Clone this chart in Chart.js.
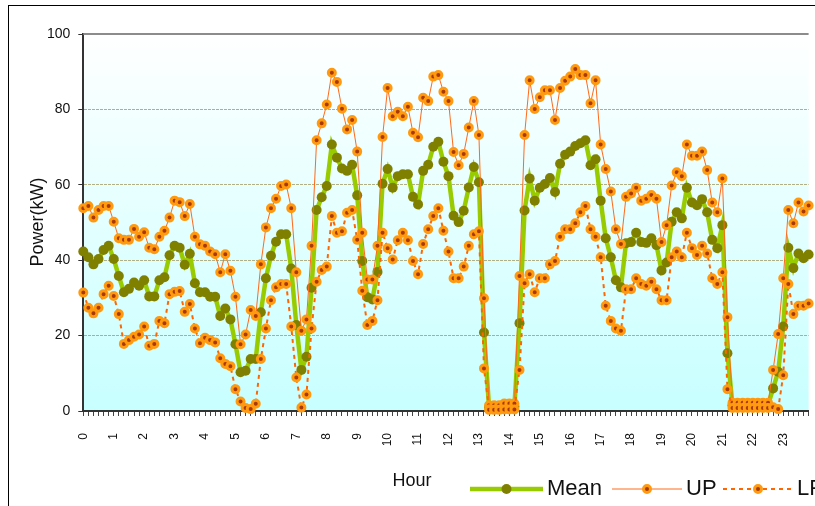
<!DOCTYPE html>
<html>
<head>
<meta charset="utf-8">
<title>Power by hour</title>
<script src="https://cdn.jsdelivr.net/npm/chart.js@4.4.0/dist/chart.umd.min.js"></script>
<style>
  html, body { margin: 0; padding: 0; background: #fff; overflow: hidden; }
  #wrap { position: relative; width: 815px; height: 506px; overflow: hidden; }
  #powerChart { position: absolute; left: 0; top: 0; }
</style>
</head>
<body>
<div id="wrap"><canvas id="powerChart" width="840" height="506" style="width:840px;height:506px"></canvas></div>
<script>
// =======================================================
// === DATA (10 min slots, 6 per hour) ===
// =======================================================
const hourLabels = ['0','1','2','3','4','5','6','7','8','9','10','11',
                    '12','13','14','15','16','17','18','19','20','21','22','23'];
const SLOTS_PER_HOUR = 6;

// Mean power (kW)
const meanKW = [
  42.3,40.8,38.9,40.3,42.7,43.8,40.3,35.8,31.5,32.4,
  34.1,33.2,34.7,30.4,30.4,34.7,35.5,41.3,43.8,43.3,
  38.8,41.7,33.9,31.5,31.5,30.3,30.3,25.2,27.2,24.3,
  17.7,10.3,10.7,13.8,13.8,26.2,35.2,41.2,44.9,46.9,
  46.9,37.8,22.8,10.9,14.4,32.7,53.3,56.7,59.7,70.7,
  67.2,64.3,63.7,65.3,57.2,39.8,30.2,29.6,36.9,60.3,
  64.2,59.2,62.3,62.8,62.8,56.8,54.8,63.7,65.3,70.1,
  71.4,66.1,62.3,51.8,50.1,53.1,59.3,64.7,60.7,20.8,
  1.0,1.0,1.0,1.2,1.2,1.2,23.3,53.2,61.7,55.8,
  59.2,60.2,61.8,58.1,65.6,68.0,68.8,70.3,71.0,71.8,
  65.2,66.8,55.8,45.8,40.8,34.7,32.8,44.5,44.8,47.3,
  44.8,44.6,45.8,44.0,37.3,39.4,50.2,52.7,51.1,59.2,
  55.3,54.6,56.2,52.7,45.4,43.2,49.3,15.3,1.5,1.5,
  1.5,1.5,1.5,1.5,1.5,1.5,6.0,10.4,22.4,43.3,
  37.9,41.8,40.5,41.5
];

// Upper bound (kW)
const upKW = [
  53.8,54.4,51.3,53.3,54.4,54.4,50.2,45.8,45.4,45.4,
  48.3,46.2,47.4,43.3,42.9,46.2,47.8,51.3,55.8,55.4,
  51.7,54.9,46.2,44.2,43.8,42.3,41.6,36.8,41.6,37.2,
  30.3,17.7,20.3,26.8,25.2,38.9,48.7,53.8,56.3,59.7,
  60.1,53.8,36.8,21.3,24.3,43.8,71.8,76.3,81.3,89.7,
  87.3,80.2,74.7,77.2,68.8,47.3,34.9,34.9,43.8,72.7,
  85.7,78.2,79.4,78.2,80.7,73.8,72.6,83.1,82.2,88.7,
  89.1,84.7,82.2,68.7,65.2,68.2,75.2,82.2,73.2,29.9,
  1.5,1.5,1.5,2.0,2.0,2.0,35.8,73.2,87.7,80.1,
  83.2,85.1,85.1,77.2,85.7,87.6,88.7,90.7,89.1,89.1,
  81.6,87.7,70.7,64.2,58.2,48.2,44.3,56.8,57.7,59.2,
  55.8,56.3,57.3,56.3,44.8,49.3,59.8,63.3,62.3,70.7,
  67.7,67.7,68.8,63.9,55.3,52.7,61.7,24.9,2.2,2.2,
  2.2,2.2,2.2,2.2,2.2,2.2,10.9,20.4,35.2,53.3,
  49.8,55.3,52.9,54.5
];

// Lower bound (kW)
const lpKW = [
  31.4,27.4,25.9,27.4,31.0,33.2,30.5,25.7,17.8,18.8,
  19.7,20.3,22.4,17.3,17.8,23.9,23.3,31.0,31.6,31.8,
  26.3,28.4,21.9,18.0,19.4,18.8,18.2,14.0,12.5,11.9,
  5.8,2.5,0.8,0.5,1.9,13.8,21.9,29.4,32.8,33.7,
  33.7,22.4,8.9,0.9,4.4,21.9,34.3,37.4,38.3,51.7,
  47.3,47.7,52.6,53.3,45.4,31.9,22.8,23.9,29.4,47.3,
  43.2,40.2,45.3,47.3,45.3,39.8,36.3,44.3,48.2,51.7,
  53.8,47.8,42.3,35.2,35.2,38.3,43.8,46.9,47.7,11.3,
  0.3,0.3,0.3,0.4,0.4,0.4,10.9,33.9,36.3,31.5,
  35.2,35.2,38.9,39.8,46.2,48.2,48.2,49.8,52.7,54.4,
  48.2,46.2,40.8,27.9,23.9,21.9,21.3,32.3,32.3,35.2,
  33.7,33.2,34.3,32.3,29.4,29.4,40.8,42.3,40.8,47.3,
  43.2,41.4,43.8,41.8,35.2,33.7,36.8,5.8,0.8,0.8,
  0.8,0.8,0.8,0.8,0.8,0.8,1.0,0.5,9.5,33.7,
  25.7,27.9,27.9,28.5
];

// categories: one per 10 minutes
const timeSlots = [];
hourLabels.forEach(h => {
  for (let m = 0; m < 60; m += 10) timeSlots.push(h + ':' + String(m).padStart(2, '0'));
});

const FONT = '"Liberation Sans", Arial, sans-serif';

// =======================================================
// === PLUGINS: backdrop, frame, titles, legend ===
// =======================================================
const chartBackdrop = {
  id: 'chartBackdrop',
  beforeDraw(chart) {
    const { ctx, chartArea: a } = chart;
    const g = ctx.createLinearGradient(0, a.top, 0, a.bottom);
    g.addColorStop(0, '#ffffff');
    g.addColorStop(1, '#c8ffff');
    ctx.save();
    ctx.fillStyle = g;
    ctx.fillRect(a.left, a.top, a.right - a.left, a.bottom - a.top);
    // outer chart border (only top/left are inside the window)
    ctx.strokeStyle = '#000';
    ctx.lineWidth = 1;
    ctx.strokeRect(8.5, 5.5, chart.width, chart.height);
    ctx.restore();
  },
  beforeDatasetsDraw(chart) {
    const { ctx, chartArea: a } = chart;
    ctx.save();
    ctx.strokeStyle = '#8c8c8c';
    ctx.lineWidth = 2;
    ctx.beginPath();
    ctx.moveTo(a.left, a.top);
    ctx.lineTo(a.right, a.top);
    ctx.stroke();
    ctx.restore();
  }
};

const titlesAndLegend = {
  id: 'titlesAndLegend',
  afterDraw(chart, args, opts) {
    const ctx = chart.ctx;
    ctx.save();
    ctx.fillStyle = '#111';
    ctx.textBaseline = 'middle';
    ctx.textAlign = 'center';

    // axis titles
    ctx.font = '18px ' + FONT;
    ctx.fillText('Hour', opts.xTitle.x, opts.xTitle.y);
    ctx.save();
    ctx.translate(opts.yTitle.x, opts.yTitle.y);
    ctx.rotate(-Math.PI / 2);
    ctx.fillText('Power(kW)', 0, 0);
    ctx.restore();

    // legend: line sample + marker + label
    ctx.font = '22px ' + FONT;
    ctx.textAlign = 'left';
    chart.data.datasets.forEach((ds, i) => {
      const item = opts.items[i];
      const y = opts.y;
      ctx.save();
      ctx.strokeStyle = ds.borderColor;
      ctx.lineWidth = ds.borderWidth;
      ctx.setLineDash(ds.borderDash || []);
      ctx.beginPath();
      ctx.moveTo(item.x, y);
      ctx.lineTo(item.x + item.w, y);
      ctx.stroke();
      ctx.setLineDash([]);
      ctx.beginPath();
      ctx.arc(item.x + item.w / 2, y, ds.pointRadius, 0, Math.PI * 2);
      ctx.fillStyle = ds.pointBackgroundColor;
      ctx.fill();
      if (ds.pointBorderWidth) {
        ctx.lineWidth = ds.pointBorderWidth;
        ctx.strokeStyle = ds.pointBorderColor;
        ctx.stroke();
      }
      ctx.restore();
      ctx.fillText(ds.label, item.x + item.w + 4, y);
    });
    ctx.restore();
  }
};

// =======================================================
// === CHART ===
// =======================================================
window.onload = () => {
  const ctx = document.getElementById('powerChart').getContext('2d');

  new Chart(ctx, {
    type: 'line',
    data: {
      labels: timeSlots,
      datasets: [
        {
          label: 'Mean',
          data: meanKW,
          borderColor: '#99cc00',
          borderWidth: 4.5,
          pointRadius: 5,
          pointBackgroundColor: '#808000',
          pointBorderColor: '#808000',
          pointBorderWidth: 0,
          tension: 0,
          clip: false,
          order: 3
        },
        {
          label: 'UP',
          data: upKW,
          borderColor: '#ff6a1a',
          borderWidth: 1,
          pointRadius: 3.5,
          pointBackgroundColor: '#a83a00',
          pointBorderColor: '#ff9a10',
          pointBorderWidth: 3,
          tension: 0,
          clip: false,
          order: 2
        },
        {
          label: 'LP',
          data: lpKW,
          borderColor: '#ff6600',
          borderWidth: 2,
          borderDash: [4, 4],
          pointRadius: 3.5,
          pointBackgroundColor: '#a83a00',
          pointBorderColor: '#ff9a10',
          pointBorderWidth: 3,
          tension: 0,
          clip: false,
          order: 1
        }
      ]
    },
    options: {
      responsive: false,
      animation: false,
      events: [],
      layout: { padding: { top: 34, right: 19.4, left: 0, bottom: 0 } },
      plugins: {
        legend: { display: false },
        tooltip: { enabled: false },
        titlesAndLegend: {
          xTitle: { x: 412, y: 481 },
          yTitle: { x: 38, y: 222 },
          y: 489,
          items: [
            { x: 470, w: 73 },
            { x: 612, w: 70 },
            { x: 723, w: 70 }
          ]
        }
      },
      scales: {
        x: {
          offset: false,
          afterFit: (scale) => { scale.height = 95; },
          grid: {
            drawOnChartArea: false,
            drawTicks: true,
            tickLength: 5,
            tickColor: '#444',
            tickWidth: 1
          },
          border: { color: '#333', width: 2 },
          ticks: {
            autoSkip: false,
            maxRotation: 90,
            minRotation: 90,
            padding: 17,
            color: '#111',
            font: { family: FONT, size: 12 },
            callback: (value, index) =>
              index % SLOTS_PER_HOUR === 0 ? hourLabels[index / SLOTS_PER_HOUR] : ''
          }
        },
        y: {
          min: 0,
          max: 100,
          afterFit: (scale) => { scale.width = 83.3; },
          grid: {
            color: (c) => (c.tick.value > 0 && c.tick.value < 100) ? '#b0b088' : 'rgba(0,0,0,0)',
            tickColor: '#333',
            tickLength: 5,
            lineWidth: 1
          },
          border: { color: '#333', width: 2, dash: [3, 1] },
          ticks: {
            stepSize: 20,
            padding: 8,
            color: '#111',
            font: { family: FONT, size: 14 }
          }
        }
      }
    },
    plugins: [chartBackdrop, titlesAndLegend]
  });
};
</script>
</body>
</html>
